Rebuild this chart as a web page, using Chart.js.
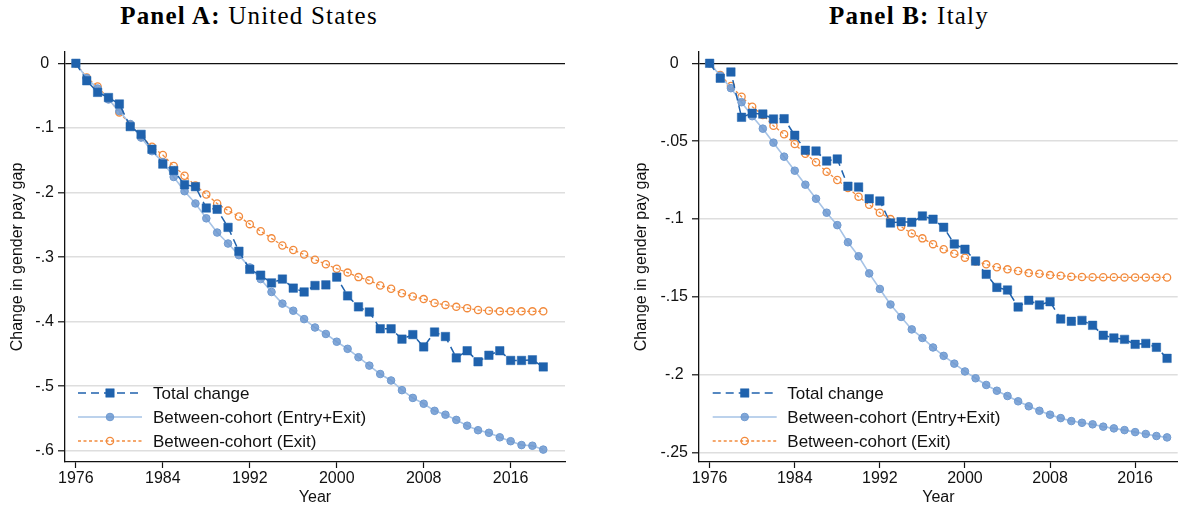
<!DOCTYPE html>
<html>
<head>
<meta charset="utf-8">
<script src="https://cdn.jsdelivr.net/npm/chart.js@4/dist/chart.umd.min.js"></script>
<style>
  html, body { margin:0; padding:0; background:#fff; }
  #wrap { position:relative; width:1185px; height:510px; overflow:hidden; background:#fff; }
  canvas { position:absolute; top:0; }
  .ttl { position:absolute; top:0; font-family:'Liberation Serif','Times New Roman',serif; font-size:25px; letter-spacing:1.2px; color:#000; white-space:nowrap; transform:translateX(-50%); line-height:32px; }
  .ttl b { font-weight:bold; }
</style>
</head>
<body>
<div id="wrap">
  <div class="ttl" style="left:249px;"><b>Panel A:</b> United States</div>
  <div class="ttl" style="left:909px;"><b>Panel B:</b> Italy</div>
  <canvas id="cA" width="592" height="510" style="left:0px;"></canvas>
  <canvas id="cB" width="593" height="510" style="left:592px;"></canvas>
</div>
<script>
// ---------- data ----------
const years = [1976,1977,1978,1979,1980,1981,1982,1983,1984,1985,1986,1987,1988,1989,1990,1991,1992,1993,1994,1995,1996,1997,1998,1999,2000,2001,2002,2003,2004,2005,2006,2007,2008,2009,2010,2011,2012,2013,2014,2015,2016,2017,2018,2019];

const seriesLabels = ['Total change', 'Between-cohort (Entry+Exit)', 'Between-cohort (Exit)'];

const usTotal = [0,-0.027,-0.045,-0.053,-0.063,-0.098,-0.110,-0.133,-0.156,-0.166,-0.188,-0.191,-0.224,-0.226,-0.254,-0.291,-0.319,-0.328,-0.340,-0.334,-0.348,-0.354,-0.344,-0.343,-0.331,-0.360,-0.377,-0.385,-0.411,-0.411,-0.427,-0.420,-0.439,-0.416,-0.423,-0.456,-0.445,-0.462,-0.452,-0.445,-0.460,-0.460,-0.459,-0.470];
const usEntryExit = [0,-0.023,-0.039,-0.056,-0.074,-0.094,-0.115,-0.136,-0.153,-0.176,-0.198,-0.217,-0.240,-0.262,-0.279,-0.297,-0.316,-0.334,-0.354,-0.372,-0.383,-0.396,-0.409,-0.419,-0.431,-0.442,-0.455,-0.468,-0.481,-0.491,-0.506,-0.518,-0.527,-0.538,-0.544,-0.552,-0.561,-0.568,-0.572,-0.579,-0.585,-0.591,-0.592,-0.598];
const usExit = [0,-0.022,-0.036,-0.055,-0.076,-0.095,-0.113,-0.129,-0.142,-0.159,-0.174,-0.189,-0.203,-0.217,-0.228,-0.237,-0.249,-0.260,-0.271,-0.282,-0.289,-0.296,-0.304,-0.311,-0.318,-0.324,-0.331,-0.336,-0.344,-0.349,-0.356,-0.361,-0.365,-0.371,-0.374,-0.377,-0.379,-0.382,-0.383,-0.384,-0.384,-0.384,-0.384,-0.384];

const itTotal = [0,-0.0096,-0.0056,-0.0347,-0.0321,-0.0326,-0.0358,-0.0356,-0.0463,-0.0559,-0.0564,-0.0628,-0.0615,-0.0790,-0.0795,-0.0870,-0.0885,-0.1026,-0.1018,-0.1022,-0.0981,-0.1002,-0.1054,-0.1161,-0.1195,-0.1271,-0.1356,-0.1440,-0.1457,-0.1566,-0.1523,-0.1553,-0.1532,-0.1643,-0.1658,-0.1652,-0.1684,-0.1748,-0.1765,-0.1774,-0.1806,-0.1800,-0.1825,-0.1896];
const itEntryExit = [0,-0.008,-0.016,-0.025,-0.034,-0.042,-0.051,-0.060,-0.069,-0.078,-0.087,-0.096,-0.104,-0.115,-0.124,-0.135,-0.145,-0.155,-0.163,-0.171,-0.1765,-0.1826,-0.188,-0.193,-0.198,-0.2024,-0.2067,-0.2104,-0.2138,-0.2172,-0.2204,-0.2233,-0.2258,-0.2280,-0.2299,-0.2310,-0.2320,-0.2335,-0.2346,-0.2357,-0.2370,-0.2382,-0.2395,-0.2404];
const itExit = [0,-0.0075,-0.0146,-0.0215,-0.0279,-0.0332,-0.0401,-0.0456,-0.0519,-0.0581,-0.0636,-0.0697,-0.0750,-0.0801,-0.0857,-0.0909,-0.0960,-0.1001,-0.1050,-0.1093,-0.1125,-0.1162,-0.1195,-0.1224,-0.1249,-0.1273,-0.1292,-0.1311,-0.1324,-0.1335,-0.1348,-0.1352,-0.1361,-0.1365,-0.1371,-0.1373,-0.1375,-0.1375,-0.1375,-0.1376,-0.1376,-0.1376,-0.1376,-0.1376];

const xTicks = [1976,1984,1992,2000,2008,2016];
const usYTicks = [0,-0.1,-0.2,-0.3,-0.4,-0.5,-0.6];
const itYTicks = [0,-0.05,-0.1,-0.15,-0.2,-0.25];

// ---------- styling ----------
const SANS = "'Liberation Sans', Arial, Helvetica, sans-serif";
const C_TOTAL = '#1f62ad';
const C_EE_LINE = '#a6c3e6';
const C_EE_PT = 'rgba(108,152,208,0.85)';
const C_EE_PTB = '#6f9ad0';
const C_EXIT = '#f28a3c';

function fmtY(v){
  if (Math.abs(v) < 1e-9) return '0';
  let s = String(Math.round(v*1000)/1000);
  return s.replace('0.', '.');
}

function makeDatasets(tot, ee, ex){
  const pts = arr => years.map((yr,i)=>({x:yr, y:arr[i]}));
  return [
    { label: seriesLabels[0], data: pts(tot), borderColor: C_TOTAL, borderWidth: 1.5, borderDash:[8,5],
      pointStyle:'rect', pointRadius:6, pointBackgroundColor:C_TOTAL, pointBorderColor:C_TOTAL, pointBorderWidth:0.5, tension:0 },
    { label: seriesLabels[1], data: pts(ee), borderColor: C_EE_LINE, borderWidth: 1.6, borderDash:[],
      pointStyle:'circle', pointRadius:3.8, pointBackgroundColor:C_EE_PT, pointBorderColor:C_EE_PTB, pointBorderWidth:1, tension:0 },
    { label: seriesLabels[2], data: pts(ex), borderColor: C_EXIT, borderWidth: 1.3, borderDash:[3,2.5],
      pointStyle:'circle', pointRadius:3.6, pointBackgroundColor:'rgba(0,0,0,0)', pointBorderColor:C_EXIT, pointBorderWidth:1.3, tension:0 }
  ];
}

const stataLegend = {
  id: 'stataLegend',
  afterDraw(chart, args, opts){
    const ctx = chart.ctx;
    ctx.save();
    chart.data.datasets.forEach((ds, i) => {
      const y = opts.y + i*opts.rowH;
      const x0 = opts.x, x1 = opts.x + opts.lineW, xm = (x0+x1)/2;
      ctx.strokeStyle = ds.borderColor; ctx.lineWidth = ds.borderWidth;
      ctx.setLineDash(opts.dashes[i]);
      ctx.beginPath(); ctx.moveTo(x0, y); ctx.lineTo(x1, y); ctx.stroke();
      ctx.setLineDash([]);
      ctx.fillStyle = ds.pointBackgroundColor; ctx.strokeStyle = ds.pointBorderColor; ctx.lineWidth = ds.pointBorderWidth;
      ctx.beginPath();
      if (ds.pointStyle === 'rect') {
        const s = ds.pointRadius*Math.SQRT1_2;
        ctx.rect(xm-s, y-s, 2*s, 2*s);
      } else {
        ctx.arc(xm, y, ds.pointRadius, 0, Math.PI*2);
      }
      ctx.fill(); ctx.stroke();
      ctx.fillStyle = '#111';
      ctx.font = opts.fontSize + 'px ' + SANS;
      ctx.textBaseline = 'middle'; ctx.textAlign = 'left';
      ctx.fillText(ds.label, opts.textX, y+1);
    });
    ctx.restore();
  }
};

function makeChart(id, cfg){
  return new Chart(document.getElementById(id), {
    type: 'line',
    data: { datasets: makeDatasets(cfg.tot, cfg.ee, cfg.ex) },
    plugins: [stataLegend],
    options: {
      responsive: false, animation: false, devicePixelRatio: 1,
      layout: { padding: { top: cfg.top, right: cfg.right, left: 0, bottom: 0 } },
      plugins: {
        legend: { display: false }, tooltip: { enabled: false }, title: { display: false },
        stataLegend: { x: cfg.legX, y: 393, rowH: 24, lineW: 64, textX: cfg.legTextX, fontSize: 17,
                       dashes: [[8,5],[],[3,2.5]] }
      },
      scales: {
        x: {
          type: 'linear', min: cfg.xmin, max: cfg.xmax,
          afterBuildTicks: s => { s.ticks = xTicks.map(v => ({value:v})); },
          afterFit: s => { s.height = 48; },
          ticks: { font: { family: SANS, size: 16 }, color: '#111', padding: 1, maxRotation: 0, autoSkip: false,
                   callback: v => String(v) },
          grid: { drawOnChartArea: false, drawTicks: true, tickLength: 6, tickColor: '#111', tickWidth: 1.2 },
          border: { display: true, color: '#111', width: 1.3 },
          title: { display: true, text: 'Year', font: { family: SANS, size: 16 }, color: '#111', padding: { top: 0, bottom: 2.5 } }
        },
        y: {
          type: 'linear', min: cfg.ymin, max: cfg.ymax,
          afterBuildTicks: s => { s.ticks = cfg.yTicks.map(v => ({value:v})); },
          afterFit: s => { s.width = cfg.yw; },
          ticks: { font: { family: SANS, size: 16 }, color: '#111', padding: 4, crossAlign: 'center', autoSkip: false,
                   callback: v => fmtY(v) },
          grid: { drawOnChartArea: true, drawTicks: true, tickLength: 7,
                  color: c => (c.tick && Math.abs(c.tick.value) < 1e-9) ? '#111' : '#dedede',
                  lineWidth: c => (c.tick && Math.abs(c.tick.value) < 1e-9) ? 1.3 : 1.6,
                  tickColor: '#111', tickWidth: 1.2 },
          border: { display: true, color: '#111', width: 1.3 },
          title: { display: true, text: 'Change in gender pay gap', font: { family: SANS, size: 16 }, color: '#111',
                   padding: { top: cfg.ytPad, bottom: 0 } }
        }
      }
    }
  });
}

makeChart('cA', { tot: usTotal, ee: usEntryExit, ex: usExit, yTicks: usYTicks,
  xmin: 1975, xmax: 2021, ymin: -0.6172, ymax: 0.0175, top: 52, right: 27, yw: 65, ytPad: 7.9,
  legX: 78, legTextX: 153 });

makeChart('cB', { tot: itTotal, ee: itEntryExit, ex: itExit, yTicks: itYTicks,
  xmin: 1975, xmax: 2020, ymin: -0.2562, ymax: 0.00726, top: 52, right: 7.3, yw: 107, ytPad: 40,
  legX: 712.7-592, legTextX: 787.3-592 });
</script>
</body>
</html>
